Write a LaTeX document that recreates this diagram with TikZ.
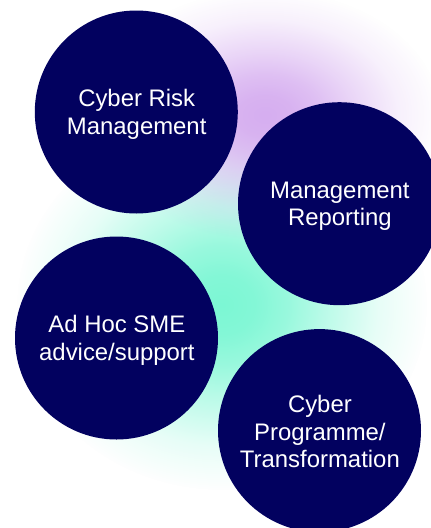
\documentclass[tikz,border=0pt]{standalone}
\usepackage{fontspec}
\usetikzlibrary{fadings}
\setmainfont{Liberation Sans}
\definecolor{navy}{HTML}{02015F}
\definecolor{glowp}{HTML}{D6AEF0}
\definecolor{glowg}{HTML}{7CF7D4}
\pgfdeclareradialshading{glowshade}{\pgfpoint{0bp}{0bp}}{color(0bp)=(pgftransparent!0); color(4bp)=(pgftransparent!6); color(8bp)=(pgftransparent!22); color(12.5bp)=(pgftransparent!48); color(19bp)=(pgftransparent!82); color(25bp)=(pgftransparent!100); color(50bp)=(pgftransparent!100)}
\pgfdeclarefading{glowfade}{\pgfuseshading{glowshade}}
\tikzset{
  disc/.style={circle,fill=navy,minimum size=203pt,inner sep=0pt},
  disctext/.style={text=white,inner sep=0pt,align=center,font=\fontsize{23.9}{27.6}\selectfont},
  glowspot/.style={path fading=glowfade,fit fading=true}
}
\begin{document}
\begin{tikzpicture}[x=1pt,y=-1pt]
\useasboundingbox (0,0) rectangle (431,528);
\clip (0,0) rectangle (431,528);
\fill[white] (0,0) rectangle (431,528);
\fill[glowg,glowspot] (222,305) ellipse [x radius=205pt,y radius=185pt];
\fill[glowp,glowspot] (265,115) ellipse [x radius=175pt,y radius=125pt];
\node[disc] (riskdisc) at (136.3,112) {};
\node[disc] (reportdisc) at (339.5,203.7) {};
\node[disc] (adhocdisc) at (116.5,338) {};
\node[disc] (progdisc) at (319.5,430.6) {};
\node[disctext] (risk) at ([xshift=0.4pt,yshift=-2.5pt]riskdisc.center) {Cyber Risk\\Management};
\node[disctext] (report) at ([xshift=0.4pt,yshift=-2.5pt]reportdisc.center) {Management\\Reporting};
\node[disctext] (adhoc) at ([xshift=0.4pt,yshift=-2.5pt]adhocdisc.center) {Ad Hoc SME\\advice/support};
\node[disctext] (prog) at ([xshift=0.4pt,yshift=-1pt]progdisc.center) {Cyber\\Programme/\\Transformation};
\end{tikzpicture}
\end{document}
